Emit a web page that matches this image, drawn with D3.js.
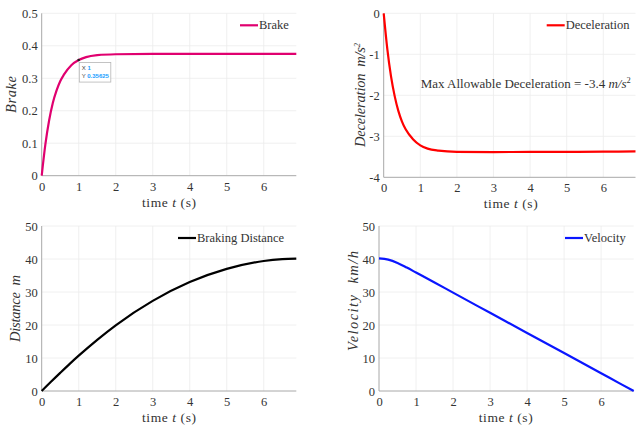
<!DOCTYPE html>
<html>
<head>
<meta charset="UTF-8" />
<title>braking</title>
<script src="https://cdn.jsdelivr.net/npm/d3@7"></script>
<style>
  body { margin: 0; background: #fff; }
  text { font-family: "Liberation Serif", "DejaVu Serif", serif; fill: #333; }
  .grid line { stroke: #ececec; stroke-width: 0.8; }
  .axis path, .axis line { stroke: #a8a8a8; }
  .line { fill: none; stroke-width: 2.2; }
</style>
</head>
<body>
<script>
var width = 637, height = 425;

// values
var time = [0, 0.1, 0.2, 0.3, 0.4, 0.5, 0.6, 0.8, 1, 1.2, 1.5, 2, 3, 4, 5, 6, 6.88];
var brake = [0, 0.097, 0.17, 0.224, 0.262, 0.291, 0.311, 0.340, 0.356, 0.365, 0.371, 0.374, 0.375, 0.375, 0.375, 0.375, 0.375];
var decel = [0, -0.88, -1.54, -2.02, -2.38, -2.64, -2.83, -3.07, -3.22, -3.30, -3.35, -3.38, -3.385, -3.38, -3.38, -3.375, -3.37];

var time2 = [0, 0.25, 0.5, 0.75, 1, 1.5, 2, 3, 4, 5, 6, 6.5, 6.88];
var distance = [0, 2.79, 5.5, 8.16, 10.7, 15.5, 19.9, 27.3, 33.0, 37.0, 39.4, 39.95, 40.1];
var velocity = [40.2, 39.8, 38.8, 37.4, 35.9, 32.9, 29.8, 23.7, 17.6, 11.5, 5.4, 2.3, 0];

var xTicks = [0, 1, 2, 3, 4, 5, 6];

var svg = d3.select("body").append("svg").attr("width", width).attr("height", height);

var plain = function(d){ return String(d); };

var panels = [
  { x0: 41.7, x1: 296.3, y0: 13.3, y1: 175.7, dom: [0, 0.5], yt: [0, 0.1, 0.2, 0.3, 0.4, 0.5], fmt: function(d){ return d === 0 ? "0" : d.toFixed(1); },
    xs: time, ys: brake, color: "#e0006f", name: "Brake", legX: 240, ylab: [{t: "Brake"}], ylen: 37, ylx: 16, ylc: 94.5, xlab: 169 },
  { x0: 383.7, x1: 635.5, y0: 13.3, y1: 177.3, dom: [-4, 0], yt: [-4, -3, -2, -1, 0], fmt: plain,
    xs: time, ys: decel, color: "#ff0000", name: "Deceleration", legX: 546.7, ylab: [{t: "Deceleration  m/s"}, {t: "2", sup: true}], ylen: 104, ylx: 365, ylc: 95, xlab: 510.7 },
  { x0: 41.7, x1: 296.3, y0: 226, y1: 391, dom: [0, 50], yt: [0, 10, 20, 30, 40, 50], fmt: plain,
    xs: time2, ys: distance, color: "#000000", name: "Braking Distance", legX: 178, ylab: [{t: "Distance  m"}], ylen: 67, ylx: 20, ylc: 308.5, xlab: 169 },
  { x0: 379, x1: 633.7, y0: 226, y1: 391, dom: [0, 50], yt: [0, 10, 20, 30, 40, 50], fmt: plain,
    xs: time2, ys: velocity, color: "#0a16ff", name: "Velocity", legX: 565, ylab: [{t: "Velocity  km/h"}], ylen: 100, ylx: 358, ylc: 301, xlab: 505.7 }
];

panels.forEach(function(p, k) {
  var x = d3.scaleLinear().domain([0, 6.88]).range([p.x0, p.x1]);
  var y = d3.scaleLinear().domain(p.dom).range([p.y1, p.y0]);
  var g = svg.append("g");

  // grid
  var grid = g.append("g").attr("class", "grid");
  grid.selectAll(".gx").data(xTicks.slice(1)).enter().append("line")
    .attr("x1", function(d){ return x(d); }).attr("x2", function(d){ return x(d); })
    .attr("y1", p.y0).attr("y2", p.y1);
  grid.selectAll(".gy").data(p.yt.slice(1)).enter().append("line")
    .attr("x1", p.x0).attr("x2", p.x1)
    .attr("y1", function(d){ return y(d); }).attr("y2", function(d){ return y(d); });

  // axes
  var ax = g.append("g").attr("class", "axis").attr("transform", "translate(0," + p.y1 + ")")
    .call(d3.axisBottom(x).tickValues(xTicks).tickSize(0).tickPadding(6).tickFormat(plain));
  var ay = g.append("g").attr("class", "axis").attr("transform", "translate(" + p.x0 + ",0)")
    .call(d3.axisLeft(y).tickValues(p.yt).tickSize(0).tickPadding(4).tickFormat(p.fmt));
  ax.select(".domain").attr("d", "M" + p.x0 + ",0H" + p.x1);
  ay.select(".domain").attr("d", "M0," + p.y1 + "V" + p.y0);
  g.selectAll(".axis").attr("font-family", "Liberation Serif").attr("font-size", 12.5);
  g.selectAll(".axis text").attr("fill", "#3a3a3a");

  // line
  var pts = p.xs.map(function(t, i){ return [t, p.ys[i]]; });
  g.append("path").datum(pts).attr("class", "line").attr("stroke", p.color)
    .attr("d", d3.line().curve(d3.curveMonotoneX).x(function(d){ return x(d[0]); }).y(function(d){ return y(d[1]); }));

  // legend
  var ly = p.y0 + 12;
  g.append("line").attr("x1", p.legX).attr("x2", p.legX + 18).attr("y1", ly).attr("y2", ly)
    .attr("stroke", p.color).attr("stroke-width", 2.2);
  g.append("text").attr("x", p.legX + 19).attr("y", ly + 4).style("font-size", "12.5px").text(p.name);

  // x label
  var xl = g.append("text").attr("x", p.xlab).attr("y", p.y1 + 31).attr("text-anchor", "middle")
    .style("font-size", "13.5px").attr("textLength", 54).attr("lengthAdjust", "spacing");
  xl.append("tspan").text("time ");
  xl.append("tspan").style("font-style", "italic").text("t");
  xl.append("tspan").text(" (s)");

  // y label
  var yl = g.append("text").attr("transform", "translate(" + p.ylx + "," + p.ylc + ") rotate(-90)")
    .attr("text-anchor", "middle").style("font-size", "14.5px").style("font-style", "italic")
    .attr("textLength", p.ylen).attr("lengthAdjust", "spacing");
  p.ylab.forEach(function(s) {
    var ts = yl.append("tspan").text(s.t).style("white-space", "pre");
    if (s.sup) ts.attr("dy", -5).style("font-size", "8.5px");
  });

  if (k === 0) {
    // data tip at t = 1
    var tx = x(time[8]), tyy = y(brake[8]);
    g.append("circle").attr("cx", tx).attr("cy", tyy).attr("r", 1.3).attr("fill", "#222");
    g.append("rect").attr("x", tx + 0.6).attr("y", tyy + 2.5).attr("width", 31.5).attr("height", 19.5)
      .attr("fill", "#fff").attr("stroke", "#b5b5b5").attr("stroke-width", 0.8);
    var tip = [["X ", "1"], ["Y ", "0.35625"]];
    tip.forEach(function(r, i) {
      var t = g.append("text").attr("x", tx + 3).attr("y", tyy + 9.5 + i * 8)
        .style("font-family", "'Liberation Sans', sans-serif").style("font-size", "6px");
      t.append("tspan").attr("fill", "#444").text(r[0]);
      t.append("tspan").attr("fill", "#1aa0ff").style("font-weight", "bold").text(r[1]);
    });
  }
  if (k === 1) {
    var ann = g.append("text").attr("x", 420.7).attr("y", 88).style("font-size", "13px").style("white-space", "pre")
      .attr("textLength", 210).attr("lengthAdjust", "spacing");
    ann.append("tspan").text("Max Allowable Deceleration = -3.4 ");
    ann.append("tspan").style("font-style", "italic").text("m/s");
    ann.append("tspan").attr("dy", -5).style("font-size", "8.5px").text("2");
  }
});
</script>
</body>
</html>
